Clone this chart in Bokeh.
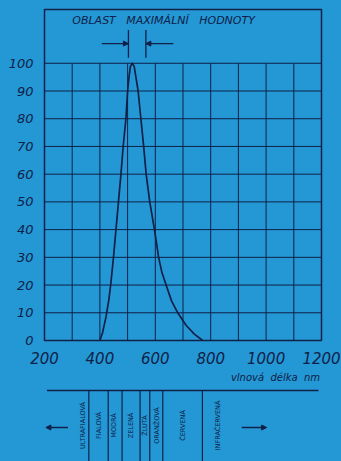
import math
from bokeh.plotting import figure
from bokeh.layouts import column
from bokeh.models import Range1d, FixedTicker, Arrow, NormalHead
from bokeh.core.properties import value
from bokeh.embed import file_html
from bokeh.resources import INLINE

# ---- data ----
wavelength = [400, 410, 422, 432, 440, 449, 458, 467, 476, 484, 494, 500, 505, 510, 517,
              524, 530, 538, 548, 558, 567, 580, 597, 612, 624, 639, 659, 681, 711, 741, 771]
relative = [0, 3, 8.5, 14.5, 21, 30, 40, 50, 60, 70, 80, 90, 95, 98.8, 100,
            98.8, 95, 90, 80, 70, 60, 50, 40, 30, 24.5, 20, 14.2, 10, 5.5, 2.3, 0]
x_ticks = [200, 400, 600, 800, 1000, 1200]
x_grid = [200, 300, 400, 500, 600, 700, 800, 900, 1000, 1100, 1200]
y_ticks = [0, 10, 20, 30, 40, 50, 60, 70, 80, 90, 100]
max_region = [503, 566]
NB = "\u00a0"
title_text = ("OBLAST" + NB * 3 + "MAXIMÁLNÍ" + NB * 3 + "HODNOTY")
axis_title = "vlnová" + NB * 2 + "délka" + NB * 2 + "nm"
band_edges = [360, 430, 480, 545, 580, 627, 770]
band_names = ["ULTRAFIALOVÁ", "FIALOVÁ", "MODRÁ", "ZELENÁ", "ŽLUTÁ",
              "ORANŽOVÁ", "ČERVENÁ", "INFRAČERVENÁ"]
band_label_x = [339, 396, 452, 514, 562, 605, 699, 825]

BG = "#2398d4"
INK = "#102048"
FONT = "DejaVu Sans"

# ---- top chart ----
p = figure(width=341, height=370, x_range=Range1d(200, 1200), y_range=Range1d(0, 119.4),
           output_backend="svg", toolbar_location=None,
           min_border_left=44, min_border_right=20, min_border_top=9, min_border_bottom=30)
p.background_fill_color = BG
p.border_fill_color = BG
p.outline_line_color = INK
p.outline_line_width = 1.5
p.grid.visible = False

n = len(x_grid)
p.segment(x0=x_grid, y0=[0] * n, x1=x_grid, y1=[100] * n, line_color=INK, line_width=1)
m = len(y_ticks)
p.segment(x0=[200] * m, y0=y_ticks, x1=[1200] * m, y1=y_ticks, line_color=INK, line_width=1)
p.line(wavelength, relative, line_color=INK, line_width=1.7, line_join="round")

for ax in (p.xaxis[0], p.yaxis[0]):
    ax.axis_line_color = None
    ax.major_tick_line_color = None
    ax.minor_tick_line_color = None
    ax.major_tick_out = 0
    ax.major_tick_in = 0
    ax.major_label_text_font = FONT
    ax.major_label_text_font_style = "italic"
    ax.major_label_text_color = INK
p.xaxis.ticker = FixedTicker(ticks=x_ticks)
p.yaxis.ticker = FixedTicker(ticks=y_ticks)
p.xaxis.major_label_text_font_size = "15px"
p.yaxis.major_label_text_font_size = "13px"
p.xaxis.major_label_standoff = 11
p.yaxis.major_label_standoff = 11

# annotation of maximum region
p.text(x=[630], y=[115.4], text=[title_text], text_align="center", text_baseline="middle",
       text_font=value(FONT), text_font_style="italic", text_font_size="11px", text_color=INK)
p.segment(x0=max_region, y0=[102, 102], x1=max_region, y1=[112, 112], line_color=INK, line_width=1.3)
p.segment(x0=[max_region[0] - 96, max_region[1]], y0=[107.1, 107.1],
          x1=[max_region[0], max_region[1] + 99], y1=[107.1, 107.1], line_color=INK, line_width=1.1)
p.add_layout(Arrow(end=NormalHead(size=5, fill_color=INK, line_color=INK), line_color=None,
                   x_start=max_region[0] - 30, y_start=107.1, x_end=max_region[0], y_end=107.1))
p.add_layout(Arrow(end=NormalHead(size=5, fill_color=INK, line_color=INK), line_color=None,
                   x_start=max_region[1] + 30, y_start=107.1, x_end=max_region[1], y_end=107.1))

# ---- spectrum band strip ----
q = figure(width=341, height=91, x_range=p.x_range, y_range=Range1d(91, 0),
           output_backend="svg", toolbar_location=None,
           x_axis_location=None, y_axis_location=None,
           min_border_left=44, min_border_right=20, min_border_top=0, min_border_bottom=0)
q.background_fill_color = BG
q.border_fill_color = BG
q.outline_line_color = None
q.grid.visible = False

q.text(x=[1195], y=[7], text=[axis_title], text_align="right", text_baseline="middle",
       text_font=value(FONT), text_font_style="italic", text_font_size="10px", text_color=INK)
q.segment(x0=[209], y0=[20], x1=[1189], y1=[20], line_color=INK, line_width=1.3)
k = len(band_edges)
q.segment(x0=band_edges, y0=[20] * k, x1=band_edges, y1=[91] * k, line_color=INK, line_width=1.2)
q.text(x=band_label_x, y=[55] * len(band_names), text=band_names, angle=math.pi / 2,
       text_align="center", text_baseline="middle", text_font=value(FONT),
       text_font_size="6.5px", text_color=INK)
q.add_layout(Arrow(end=NormalHead(size=5, fill_color=INK, line_color=INK), line_color=INK,
                   line_width=1.3, x_start=285, y_start=57, x_end=205, y_end=57))
q.add_layout(Arrow(end=NormalHead(size=5, fill_color=INK, line_color=INK), line_color=INK,
                   line_width=1.3, x_start=912, y_start=57, x_end=1002, y_end=57))

layout = column(p, q, spacing=0)
html = file_html(layout, INLINE)
html = html.replace("<head>", "<head><style>body{background:%s;}</style>" % BG, 1)
with open("out.html", "w", encoding="utf-8") as f:
    f.write(html)
